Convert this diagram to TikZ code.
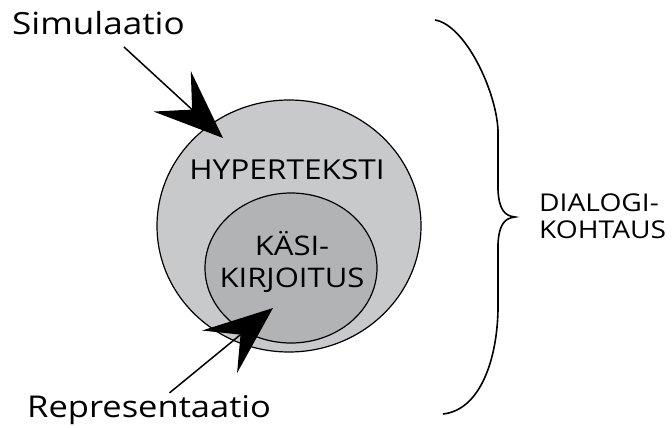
\documentclass[tikz,border=0pt]{standalone}
\usepackage{fontspec}
\setmainfont{Open Sans}[FakeStretch=1.15]
\usepackage{tikz}
\usetikzlibrary{shapes,arrows,positioning,calc,arrows.meta}
\definecolor{hyperfill}{RGB}{200,201,203}
\definecolor{kasifill}{RGB}{178,179,181}
\tikzstyle{bigarrow} = [-{Stealth[length=69pt,width=55pt,inset=27pt]}, line width=1.5pt]
\tikzstyle{set} = [draw, ellipse, line width=1.2pt, inner sep=0pt]
\tikzstyle{lbl} = [inner sep=0pt, anchor=base west]

\begin{document}
\begin{tikzpicture}[x=1pt, y=-1pt]
    \useasboundingbox (0,0) rectangle (672,428);
    \node[set, fill=hyperfill, minimum width=264pt, minimum height=252pt] (hyper) at (289,226) {};
    \node[set, fill=kasifill, minimum width=172pt, minimum height=150pt] (kasi) at (291,268) {};
    \node[inner sep=0pt, anchor=base, font=\fontsize{27.5}{30}\selectfont] (hypertxt) at (287,179) {HYPERTEKSTI};
    \node[inner sep=0pt, anchor=base, align=center, font=\fontsize{27}{32}\selectfont] (kasitxt) at (292,287) {KÄSI-\\KIRJOITUS};
    \node[lbl, font=\fontsize{30.5}{34}\selectfont] (sim) at (12,35) {Simulaatio};
    \node[lbl, font=\fontsize{30}{34}\selectfont] (rep) at (27,417) {Representaatio};
    \node[lbl, align=left, font=\fontsize{24.5}{27}\selectfont] (dialog) at (539,238) {DIALOGI-\\KOHTAUS};
    \coordinate (simtip) at (223,138);
    \coordinate (reptip) at (273,308);
    \draw[bigarrow, shorten <=17pt] (sim) -- (simtip);
    \draw[bigarrow, shorten <=3pt] (rep) -- (reptip);
    \draw[line width=1.6pt] (435,20) .. controls (465,25) and (496,90) .. (498,130) -- (498,190)
        .. controls (499,210) and (505,216) .. (515,217)
        .. controls (505,218) and (499,224) .. (498,244) -- (498,310)
        .. controls (497,360) and (480,410) .. (443,414);
\end{tikzpicture}
\end{document}
